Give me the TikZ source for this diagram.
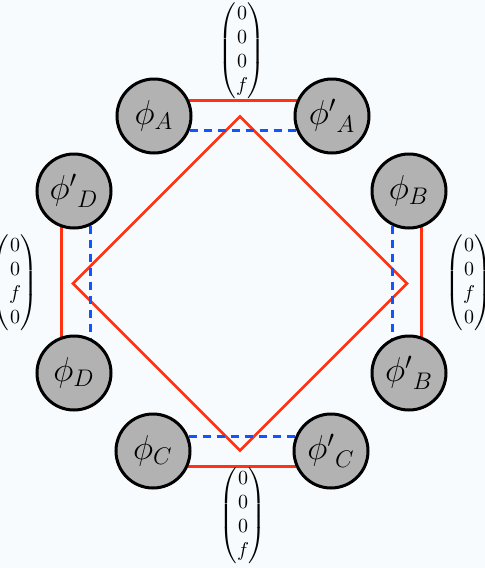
\documentclass[tikz,border=0pt]{standalone}
\usepackage{amsmath}
\definecolor{bgc}{RGB}{247,251,254}
\definecolor{lred}{RGB}{255,51,17}
\definecolor{lblue}{RGB}{17,85,255}
\pgfdeclarelayer{back}
\pgfsetlayers{back,main}
\begin{document}
\begin{tikzpicture}[x=0.5pt,y=-0.5pt,
  site/.style={circle,draw=black,line width=1.5pt,fill=black!30,minimum size=37pt,inner sep=0pt,font=\LARGE},
  redline/.style={draw=lred,line width=1.4pt},
  blueline/.style={draw=lblue,line width=1.4pt,dash pattern=on 4pt off 3pt},
  vec/.style={inner sep=0pt}]
\useasboundingbox (0,0) rectangle (485,568);
% sites
\node[site] (A)  at (154,116) {$\phi_A$};
\node[site] (Ap) at (332,116) {${\phi'}_A$};
\node[site] (C)  at (153,451) {$\phi_C$};
\node[site] (Cp) at (331,451) {${\phi'}_C$};
\node[site] (Dp) at (74,191) {${\phi'}_D$};
\node[site] (D)  at (74,373) {$\phi_D$};
\node[site] (B)  at (409,191) {$\phi_B$};
\node[site] (Bp) at (409,373) {${\phi'}_B$};
% vectors
\node[vec] (vA) at (242,51) {$\begin{pmatrix}0\\0\\0\\f\end{pmatrix}$};
\node[vec] (vC) at (243,516) {$\begin{pmatrix}0\\0\\0\\f\end{pmatrix}$};
\node[vec] (vD) at (15,283) {$\begin{pmatrix}0\\0\\f\\0\end{pmatrix}$};
\node[vec] (vB) at (469,283) {$\begin{pmatrix}0\\0\\f\\0\end{pmatrix}$};
\begin{pgfonlayer}{back}
\fill[bgc] (0,0) rectangle (485,568);
% diamond
\draw[redline,line join=miter] (240,116.5) -- (407,283.5) -- (240,450.5) -- (73,283.5) -- cycle;
% red bonds
\draw[redline] (A.24) -- (Ap.156);
\draw[redline] (C.-24) -- (Cp.-156);
\draw[redline] (Dp.251) -- (D.109);
\draw[redline] (B.289) -- (Bp.71);
% blue dashed bonds
\draw[blueline] (A.-22) -- (Ap.-158);
\draw[blueline] (C.22) -- (Cp.158);
\draw[blueline] (Dp.296) -- (D.64);
\draw[blueline] (B.244) -- (Bp.116);
\end{pgfonlayer}
\end{tikzpicture}
\end{document}
